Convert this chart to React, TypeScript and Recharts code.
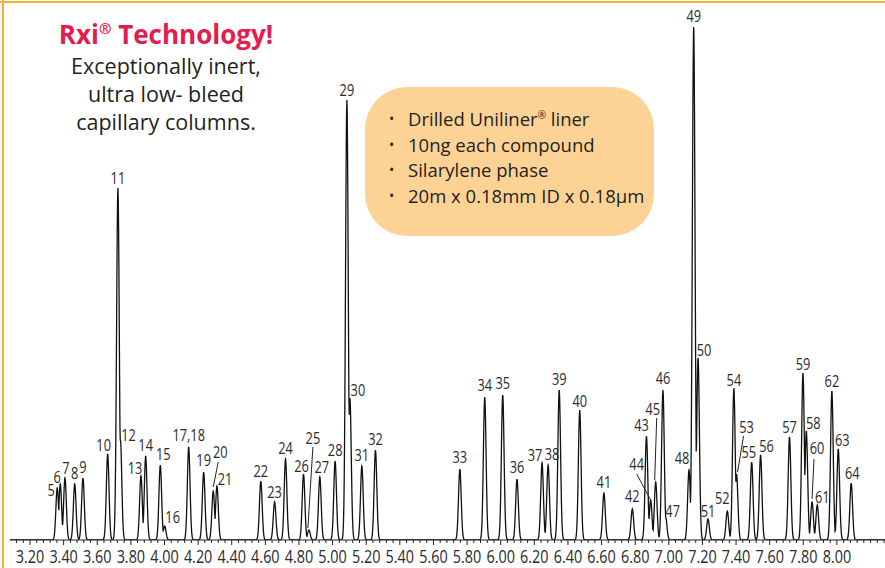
import React from 'react';
import { ComposedChart, Line, Scatter, XAxis, YAxis } from 'recharts';

// peaks: label, retention time (min), height (abundance units)
const peakIds = [
  '5', '6', '7', '8', '9', '10', '11', '12', '13', '14', '15', '16', '17,18', '19', '20', '21',
  '22', '23', '24', '25', '26', '27', '28', '29', '30', '31', '32', '33', '34', '35', '36', '37',
  '38', '39', '40', '41', '42', '43', '44', '45', '46', '47', '48', '49', '50', '51', '52', '53',
  '54', '55', '56', '57', '58', '59', '60', '61', '62', '63', '64',
];
const peakTimes = [
  3.362, 3.38, 3.408, 3.466, 3.515, 3.662, 3.723, 3.738, 3.86, 3.888, 3.975, 4.001, 4.144, 4.233, 4.29, 4.312,
  4.573, 4.655, 4.72, 4.859, 4.827, 4.924, 5.015, 5.085, 5.103, 5.174, 5.255, 5.757, 5.905, 6.012, 6.097, 6.246,
  6.282, 6.348, 6.47, 6.614, 6.783, 6.867, 6.892, 6.922, 6.965, 6.981, 7.12, 7.148, 7.174, 7.233, 7.348, 7.403,
  7.387, 7.493, 7.546, 7.718, 7.818, 7.798, 7.852, 7.883, 7.97, 8.008, 8.085,
];
const peakHeights = [
  52, 56, 62, 56, 62, 86, 352, 100, 64, 84, 75, 14, 93, 68, 49, 54,
  59, 38, 81, 10, 66, 63, 79, 440, 142, 74, 90, 71, 143, 145, 61, 77,
  75, 150, 130, 47, 31, 104, 40, 58, 150, 23, 70, 513, 182, 21, 29, 66,
  152, 78, 85, 103, 109, 167, 38, 35, 149, 91, 57,
];

const majorTicks = [
  3.2, 3.4, 3.6, 3.8, 4.0, 4.2, 4.4, 4.6, 4.8, 5.0, 5.2, 5.4, 5.6, 5.8, 6.0, 6.2, 6.4,
  6.6, 6.8, 7.0, 7.2, 7.4, 7.6, 7.8, 8.0,
];

const T_MIN = 3.081;
const T_MAX = 8.286;
const SIGMA = 0.008;

const peaks = peakIds.map((id, i) => ({ id, t: peakTimes[i], h: peakHeights[i] }));

// detector trace: each read peak drawn as a narrow gaussian on a flat baseline
// (overlapping peaks take the upper envelope so every apex keeps its read height)
const sampleTimes: number[] = [];
for (let t = T_MIN; t <= T_MAX; t += 0.002) sampleTimes.push(+t.toFixed(4));
sampleTimes.push(...peakTimes);
sampleTimes.sort((a, b) => a - b);
const trace = sampleTimes.map((t) => {
  let v = 0;
  peaks.forEach((p) => {
    const d = (t - p.t) / SIGMA;
    if (Math.abs(d) < 6) v = Math.max(v, p.h * Math.exp(-(d * d) / 2));
  });
  return { t, v };
});

const minorTicks: number[] = [];
for (let t = 3.12; t <= T_MAX; t += 0.04) minorTicks.push(+t.toFixed(2));

// label placement relative to the apex (px)
const labelOffset: Record<string, [number, number]> = {
  '5': [-6, 2], '6': [-3, -7], '7': [1, -10], '8': [0, -11], '9': [0, -11], '10': [-4, -9],
  '11': [0, -10], '12': [8, -5], '13': [-6, -8], '14': [0, -11], '15': [3, -11], '16': [8, -9],
  '17,18': [0, -12], '19': [0, -12], '20': [7, -39], '21': [8, -7], '22': [0, -10], '23': [0, -10],
  '24': [0, -11], '25': [4, -92], '26': [-2, -8], '27': [2, -10], '28': [0, -11], '29': [0, -10],
  '30': [8, -8], '31': [0, -11], '32': [0, -11], '33': [0, -12], '34': [0, -12], '35': [0, -12],
  '36': [0, -12], '37': [-7, -8], '38': [4, -11], '39': [0, -11], '40': [0, -9], '41': [0, -11],
  '42': [0, -13], '43': [-5, -11], '44': [-14, -36], '45': [-3, -73], '46': [0, -12], '47': [7, -6],
  '48': [-7, -12], '49': [0, -11], '50': [6, -8], '51': [0, -8], '52': [-5, -13], '53': [10, -47],
  '54': [0, -8], '55': [-3, -10], '56': [6, -9], '57': [0, -10], '58': [7, -8], '59': [0, -9],
  '60': [5, -54], '61': [5, -8], '62': [0, -10], '63': [4, -9], '64': [1, -10],
};

// leader lines: start rel. to label centre, end rel. to apex
const leaders: Record<string, [number, number, number, number]> = {
  '20': [-2, 10, 0, -4],
  '25': [0, 9, -1, -2],
  '44': [0, 10, 0, 0],
  '45': [4, 9, -1, -2],
  '53': [-3, 9, 1, -2],
  '60': [-3, 11, 0, -3],
};

const sans = "'Open Sans', 'Noto Sans', sans-serif";

// condensed-looking numerals: squeeze a regular sans horizontally
const NarrowText = ({ x, y, size, children }: any) => (
  <text
    transform={`translate(${x},${y}) scale(0.8,1)`}
    textAnchor="middle"
    dominantBaseline="central"
    fontFamily={sans}
    fontSize={size}
    fill="#2b2b2b"
  >
    {children}
  </text>
);

const PeakLabel = (props: any) => {
  const { cx, cy, payload } = props;
  const [dx, dy] = labelOffset[payload.id] || [0, -11];
  const lx = cx + dx;
  const ly = cy + dy;
  const ld = leaders[payload.id];
  return (
    <g>
      {ld && (
        <line x1={lx + ld[0]} y1={ly + ld[1]} x2={cx + ld[2]} y2={cy + ld[3]} stroke="#222" strokeWidth={1} />
      )}
      <NarrowText x={lx} y={ly} size={16}>
        {payload.id}
      </NarrowText>
    </g>
  );
};

const AxisTick = (props: any) => {
  const { x, y, payload } = props;
  const v = payload.value;
  const major = majorTicks.some((m) => Math.abs(m - v) < 1e-6);
  return (
    <g>
      <line x1={x} x2={x} y1={y} y2={y + (major ? 5 : 3)} stroke="#222" strokeWidth={1} />
      {major && (
        <NarrowText x={x} y={y + 16} size={18}>
          {v.toFixed(2)}
        </NarrowText>
      )}
    </g>
  );
};

export default function App() {
  return (
    <div style={{ position: 'absolute', left: 0, top: 0, width: 885, height: 568, background: '#fff', overflow: 'hidden' }}>
      {/* frame */}
      <div style={{ position: 'absolute', left: 0, top: 1, width: 885, height: 1.5, background: '#f8b133' }} />
      <div style={{ position: 'absolute', left: 2, top: 0, width: 1.5, height: 568, background: '#f8b133' }} />

      {/* headline */}
      <div style={{ position: 'absolute', left: 16, top: 16, width: 300, textAlign: 'center', fontFamily: sans, color: '#231f20' }}>
        <div style={{ fontSize: 26, fontWeight: 700, color: '#e31d4c', lineHeight: '36px' }}>
          Rxi<sup style={{ fontSize: 15, verticalAlign: 'top', lineHeight: '24px' }}>®</sup> Technology!
        </div>
        <div style={{ fontSize: 21.5, lineHeight: '28px' }}>Exceptionally inert,</div>
        <div style={{ fontSize: 21.5, lineHeight: '28px' }}>ultra low- bleed</div>
        <div style={{ fontSize: 21.5, lineHeight: '28px' }}>capillary columns.</div>
      </div>

      {/* conditions box */}
      <div
        style={{
          position: 'absolute', left: 365, top: 87, width: 289, height: 149, borderRadius: 42,
          background: '#fdd395', fontFamily: sans, fontSize: 18.5, color: '#231f20', boxSizing: 'border-box',
          padding: '19px 0 0 24px', lineHeight: '25.5px',
        }}
      >
        {[
          <>Drilled Uniliner<sup style={{ fontSize: 10, verticalAlign: 'top', lineHeight: '18px' }}>®</sup> liner</>,
          <>10ng each compound</>,
          <>Silarylene phase</>,
          <>20m x 0.18mm ID x 0.18µm</>,
        ].map((line, i) => (
          <div key={i} style={{ display: 'flex' }}>
            <span style={{ width: 19, fontSize: 14 }}>•</span>
            <span>{line}</span>
          </div>
        ))}
      </div>

      <div style={{ position: 'absolute', left: 0, top: 0 }}>
        <ComposedChart width={885} height={568} margin={{ top: 0, right: 0, bottom: 0, left: 10 }}>
          <XAxis
            dataKey="t"
            type="number"
            domain={[T_MIN, T_MAX]}
            allowDataOverflow
            ticks={minorTicks}
            interval={0}
            tick={<AxisTick />}
            tickLine={false}
            tickSize={0}
            tickMargin={0}
            height={28}
            axisLine={{ stroke: '#222', strokeWidth: 1.2 }}
          />
          <YAxis type="number" domain={[0, 540]} allowDataOverflow hide />
          <Line
            data={trace}
            dataKey="v"
            type="linear"
            stroke="#111"
            strokeWidth={1.3}
            dot={false}
            activeDot={false}
            isAnimationActive={false}
          />
          <Scatter data={peaks} dataKey="h" shape={<PeakLabel />} isAnimationActive={false} />
        </ComposedChart>
      </div>
    </div>
  );
}
